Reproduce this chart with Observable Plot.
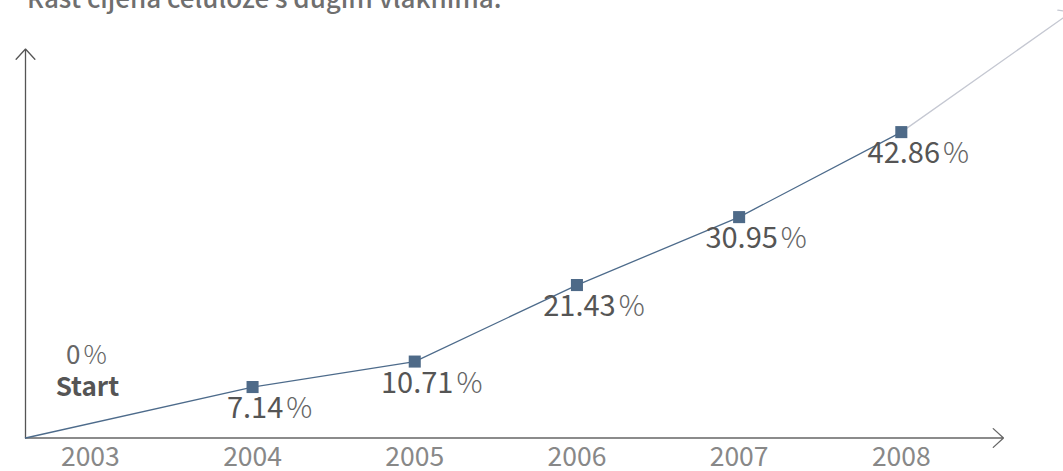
<!DOCTYPE html>
<html>
<head>
<meta charset="utf-8">
<script src="https://cdn.jsdelivr.net/npm/d3@7"></script>
<script src="https://cdn.jsdelivr.net/npm/@observablehq/plot@0.6"></script>
<style>
  html, body { margin: 0; padding: 0; background: #fff; overflow: hidden; width: 1063px; height: 471px; }
  #wrap { position: relative; width: 1063px; height: 471px; overflow: hidden; }
  #title { position: absolute; left: 27px; top: -16px; line-height: 1; font-family: "Noto Sans CJK SC", "Noto Sans", sans-serif; font-weight: 500; font-size: 26px; color: #6f6f6f; white-space: nowrap; margin: 0; }
  #chart { position: absolute; left: 0; top: 0; }
</style>
</head>
<body>
<div id="wrap">
  <div id="chart"></div>
  <div id="title">Rast cijena celuloze s dugim vlaknima.</div>
</div>
<script>
// Data
const years = [2004, 2005, 2006, 2007, 2008];
const growth = [7.14, 10.71, 21.43, 30.95, 42.86];
const labels = ["7.14%", "10.71%", "21.43%", "30.95%", "42.86%"];
const tickYears = [2003, 2004, 2005, 2006, 2007, 2008];
const startLabel = ["0%", "Start"];
const startYear = 2003;
// Axis / extension extents in data units
const xDomain = [2002.6, 2009];
const yDomain = [0, 61.3];
const xArrowEnd = 2008.63;
const yArrowEnd = 54.5;
const trendEnd = { year: 2009.05, value: 59.7 };

const pts = years.map((y, i) => ({ year: y, value: growth[i], label: labels[i] }));
const linePts = [{ year: xDomain[0], value: 0 }, ...pts];

const font = '"Noto Sans CJK SC", "Noto Sans", sans-serif';

const chart = Plot.plot({
  width: 1063,
  height: 471,
  marginLeft: 25,
  marginRight: 0,
  marginTop: 0,
  marginBottom: 33.5,
  style: { fontFamily: font, background: "transparent", overflow: "visible" },
  x: { domain: xDomain },
  y: { domain: yDomain, axis: null },
  marks: [
    Plot.arrow([{ x1: xDomain[0], y1: 0, x2: xDomain[0], y2: yArrowEnd }], {
      x1: "x1", y1: "y1", x2: "x2", y2: "y2",
      stroke: "#555", strokeWidth: 1.3, headLength: 16, headAngle: 85
    }),
    Plot.arrow([{ x1: xDomain[0], y1: 0, x2: xArrowEnd, y2: 0 }], {
      x1: "x1", y1: "y1", x2: "x2", y2: "y2",
      stroke: "#666", strokeWidth: 1.3, headLength: 16, headAngle: 85
    }),
    Plot.axisX(tickYears, {
      tickSize: 0, tickPadding: 9, tickFormat: d => String(d),
      fontSize: 26.5, fill: "#888", label: null
    }),
    Plot.arrow([{ x1: years[years.length - 1], y1: growth[growth.length - 1], x2: trendEnd.year, y2: trendEnd.value }], {
      x1: "x1", y1: "y1", x2: "x2", y2: "y2",
      stroke: "#c5c8d2", strokeWidth: 1.3, headLength: 16, headAngle: 85
    }),
    Plot.line(linePts, { x: "year", y: "value", stroke: "#4d6b8b", strokeWidth: 1.3 }),
    Plot.dot(pts, { x: "year", y: "value", symbol: "square", r: 6.8, fill: "#4e6a88", stroke: null }),
    Plot.text(pts, {
      x: "year", y: "value", text: "label", className: "pct",
      dx: 17, dy: 22, fontSize: 29, fill: "#555", fontFamily: font
    }),
    Plot.text([startLabel[0]], { x: () => startYear, y: () => 0, text: d => d, className: "pct", dx: -4, dy: -82, fontSize: 26, fill: "#666", fontFamily: font }),
    Plot.text([startLabel[1]], { x: () => startYear, y: () => 0, text: d => d, dx: -3, dy: -50, fontSize: 26, fontWeight: 600, fill: "#555", fontFamily: font })
  ]
});
document.getElementById("chart").appendChild(chart);

// render the percent sign as a light, spaced glyph like the reference
d3.select(chart).selectAll("g.pct text").each(function () {
  const t = d3.select(this);
  const s = t.text();
  if (s.endsWith("%")) {
    t.text(null);
    t.append("tspan").text(s.slice(0, -1));
    t.append("tspan").attr("dx", 3).attr("font-weight", 200).attr("fill", "#666").text("%");
  }
});
</script>
</body>
</html>
